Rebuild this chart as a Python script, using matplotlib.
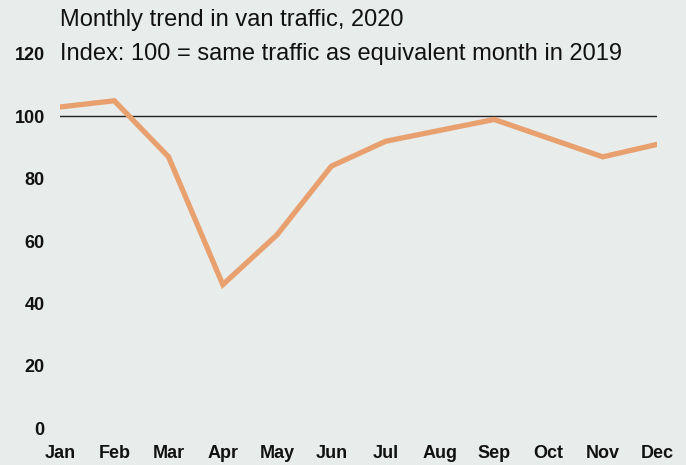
import numpy as np
import matplotlib.pyplot as plt

plt.rcParams['font.family'] = ['Liberation Sans', 'DejaVu Sans']

# data
months = ['Jan', 'Feb', 'Mar', 'Apr', 'May', 'Jun', 'Jul', 'Aug', 'Sep', 'Oct', 'Nov', 'Dec']
van_index = [103, 105, 87, 46, 62, 84, 92, 95.5, 99, 93, 87, 91]
y_ticks = [0, 20, 40, 60, 80, 100, 120]

bg = '#e8ecea'
fig = plt.figure(figsize=(6.86, 4.65), dpi=100, facecolor=bg)
ax = fig.add_axes([60/686, 37/465, (657-60)/686, (428-54)/465], facecolor=bg)

x = np.arange(len(months))
ax.axhline(100, color='#222222', lw=1.0, zorder=2)
ax.plot(x, van_index, color='#e9a06f', lw=3.8, solid_joinstyle='miter', zorder=3)

ax.set_xlim(0, len(months) - 1)
ax.set_ylim(0, 120)
ax.set_xticks(x)
ax.set_xticklabels(months)
ax.set_yticks(y_ticks)
for s in ax.spines.values():
    s.set_visible(False)
ax.tick_params(axis='both', length=0, labelsize=13, colors='#111111')
ax.tick_params(axis='y', pad=11)
ax.tick_params(axis='x', pad=12)
for lab in ax.get_xticklabels() + ax.get_yticklabels():
    lab.set_fontweight('bold')

fig.text(60/686, 1 - 20/465, 'Monthly trend in van traffic, 2020', fontsize=17,
         va='center', ha='left', color='#111111')
fig.text(60/686, 1 - 54/465, 'Index: 100 = same traffic as equivalent month in 2019',
         fontsize=17, va='center', ha='left', color='#111111')

fig.savefig('out.png', dpi=100, facecolor=bg)
